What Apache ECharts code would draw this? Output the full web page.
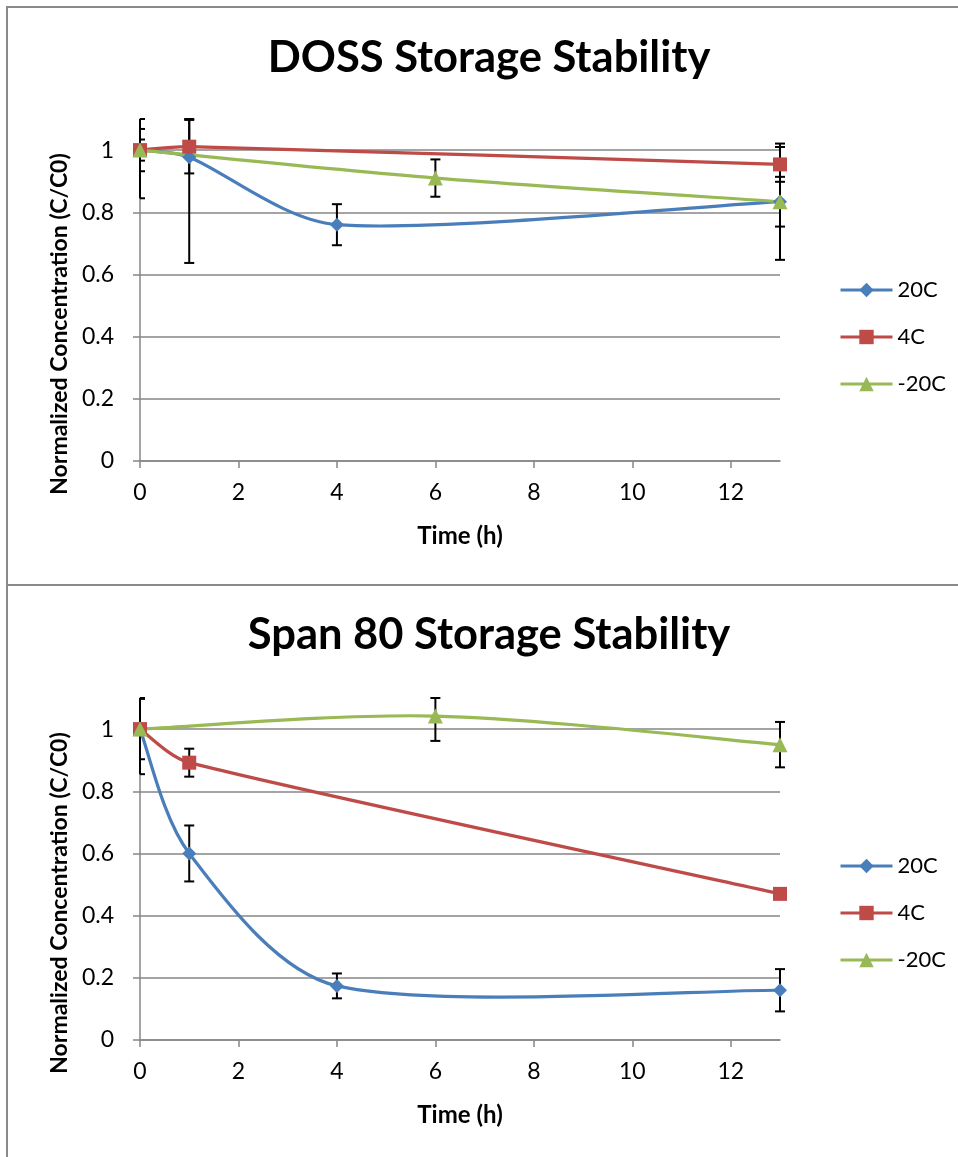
<!DOCTYPE html>
<html>
<head>
<meta charset="utf-8">
<script src="https://cdn.jsdelivr.net/npm/echarts@6/dist/echarts.min.js"></script>
<style>
  html, body { margin: 0; padding: 0; background: #fff; }
  #chart { width: 958px; height: 1157px; }
</style>
</head>
<body>
<div id="chart"></div>
<script>
// ---- data: normalized concentration C/C0 vs storage time (h) ----
const seriesNames = ['20C', '4C', '-20C'];

// DOSS
const dossTime20 = [0, 1, 4, 13];
const dossConc20 = [1.0, 0.977, 0.76, 0.834];
const dossErr20  = [0.155, 0.34, 0.066, 0.187];
const dossTime4  = [0, 1, 13];
const dossConc4  = [1.0, 1.011, 0.954];
const dossErr4   = [0.068, 0.086, 0.056];
const dossTimeM20 = [0, 6, 13];
const dossConcM20 = [1.0, 0.91, 0.834];
const dossErrM20  = [0.034, 0.06, 0.08];

// Span 80
const spanTime20 = [0, 1, 4, 13];
const spanConc20 = [1.0, 0.6, 0.174, 0.16];
const spanErr20  = [0.145, 0.09, 0.04, 0.068];
const spanTime4  = [0, 1, 13];
const spanConc4  = [1.0, 0.892, 0.47];
const spanErr4   = [0.097, 0.045, 0];
const spanTimeM20 = [0, 6, 13];
const spanConcM20 = [1.0, 1.042, 0.95];
const spanErrM20  = [0, 0.08, 0.073];

const X_MAX = 13;
const Y_MAX = 1.1;

const colors = ['#4A7EBB', '#BE4B48', '#98B954'];
const symbols = ['diamond', 'rect', 'triangle'];
const symbolSizes = [14, 14, 15];
const FONT = 'Lato, "Open Sans", sans-serif';

function pairs(xs, ys) { return xs.map((x, i) => [x, ys[i]]); }
function triples(xs, ys, es) { return xs.map((x, i) => [x, ys[i], es[i]]); }

// vertical error bar with caps, clipped to the plotting area
function renderErrorBar(params, api) {
  const cs = params.coordSys;
  const x = api.value(0), y = api.value(1), e = api.value(2);
  if (!e) return null;
  const hi = Math.min(y + e, Y_MAX);
  const lo = Math.max(y - e, 0);
  const pHi = api.coord([x, hi]);
  const pLo = api.coord([x, lo]);
  const half = 5;
  const left = Math.max(pHi[0] - half, cs.x);
  const style = { stroke: '#000', lineWidth: 2 };
  return {
    type: 'group',
    children: [
      { type: 'line', shape: { x1: pHi[0], y1: pHi[1], x2: pLo[0], y2: pLo[1] }, style },
      { type: 'line', shape: { x1: left, y1: pHi[1], x2: pHi[0] + half, y2: pHi[1] }, style },
      { type: 'line', shape: { x1: left, y1: pLo[1], x2: pLo[0] + half, y2: pLo[1] }, style }
    ]
  };
}

// smoothed curve through the points (cubic Bezier, Catmull-Rom style tangents,
// shortened next to a much shorter neighbouring segment)
function smoothPath(pix) {
  const n = pix.length;
  const dist = (a, b) => Math.hypot(b[0] - a[0], b[1] - a[1]);
  let d = 'M' + pix[0][0] + ' ' + pix[0][1];
  for (let i = 0; i < n - 1; i++) {
    const p0 = pix[Math.max(i - 1, 0)], p1 = pix[i], p2 = pix[i + 1], p3 = pix[Math.min(i + 2, n - 1)];
    const dA = dist(p0, p1), dB = dist(p1, p2), dC = dist(p2, p3);
    const s1 = Math.min(1, 2 * dB / (dA + dB));
    const s2 = Math.min(1, 2 * dB / (dB + dC));
    const c1 = [p1[0] + (p2[0] - p0[0]) / 6 * s1, p1[1] + (p2[1] - p0[1]) / 6 * s1];
    const c2 = [p2[0] - (p3[0] - p1[0]) / 6 * s2, p2[1] - (p3[1] - p1[1]) / 6 * s2];
    d += ' C' + c1[0] + ' ' + c1[1] + ' ' + c2[0] + ' ' + c2[1] + ' ' + p2[0] + ' ' + p2[1];
  }
  return d;
}

function curveSeries(k, idx, pts) {
  return {
    type: 'custom', xAxisIndex: idx, yAxisIndex: idx, z: 3, silent: true,
    encode: { x: 0, y: 1 },
    data: pts,
    renderItem: function (params, api) {
      if (params.dataIndex !== 0) return null;
      const pix = pts.map(p => api.coord(p));
      return {
        type: 'path',
        shape: { pathData: smoothPath(pix) },
        style: { fill: 'none', stroke: colors[k], lineWidth: 3.2, lineJoin: 'round', lineCap: 'round' }
      };
    }
  };
}

function markerSeries(name, k, idx, pts) {
  return {
    type: 'line', name, xAxisIndex: idx, yAxisIndex: idx, z: 4,
    data: pts,
    symbol: symbols[k], symbolSize: symbolSizes[k],
    lineStyle: { color: colors[k], width: 3, opacity: 0 },
    itemStyle: { color: colors[k] },
    emphasis: { disabled: true }
  };
}

function errorSeries(idx, data) {
  return {
    type: 'custom', xAxisIndex: idx, yAxisIndex: idx, z: 2,
    renderItem: renderErrorBar, encode: { x: 0, y: 1 },
    data, silent: true
  };
}

function xAxisFor(idx) {
  return {
    type: 'value', gridIndex: idx, min: 0, max: X_MAX, interval: 2,
    name: 'Time (h)', nameLocation: 'middle', nameGap: 63,
    nameTextStyle: { fontFamily: FONT, fontWeight: 'bold', fontSize: 24, color: '#000' },
    axisLine: { show: true, lineStyle: { color: '#868686', width: 1.5 } },
    axisTick: { show: true, length: 7, lineStyle: { color: '#868686', width: 1.5 } },
    axisLabel: { showMaxLabel: false, margin: 20, fontFamily: FONT, fontSize: 23, color: '#000' },
    splitLine: { show: false }
  };
}

function yAxisFor(idx) {
  return {
    type: 'value', gridIndex: idx, min: 0, max: Y_MAX, interval: 0.2,
    name: 'Normalized Concentration (C/C0)', nameLocation: 'middle', nameGap: 67,
    nameTextStyle: { fontFamily: FONT, fontWeight: 'bold', fontSize: 23, color: '#000',
                     padding: [0, 68, 0, 0] },
    axisLine: { show: true, lineStyle: { color: '#868686', width: 1.5 } },
    axisTick: { show: true, length: 7, lineStyle: { color: '#868686', width: 1.5 } },
    axisLabel: { showMaxLabel: false, margin: 26, fontFamily: FONT, fontSize: 23, color: '#000' },
    splitLine: { show: true, showMaxLine: false, lineStyle: { color: '#868686', width: 1.5 } }
  };
}

function legendFor(top) {
  return {
    data: seriesNames, orient: 'vertical', left: 834, top,
    itemWidth: 52, itemHeight: 18, itemGap: 25,
    lineStyle: { width: 3, opacity: 1 },
    textStyle: { fontFamily: FONT, fontSize: 22, color: '#000' },
    selectedMode: false
  };
}

const chart = echarts.init(document.getElementById('chart'), null, { renderer: 'canvas' });
chart.setOption({
  animation: false,
  backgroundColor: '#fff',
  title: [
    { text: 'DOSS Storage Stability', left: 484, top: 31, textAlign: 'center',
      textStyle: { fontFamily: FONT, fontWeight: 'bold', fontSize: 43.5, color: '#000' } },
    { text: 'Span 80 Storage Stability', left: 484, top: 608, textAlign: 'center',
      textStyle: { fontFamily: FONT, fontWeight: 'bold', fontSize: 43.5, color: '#000' } }
  ],
  legend: [legendFor(274), legendFor(850)],
  grid: [
    { left: 140, top: 119, width: 640, height: 342 },
    { left: 140, top: 698, width: 640, height: 342 }
  ],
  xAxis: [xAxisFor(0), xAxisFor(1)],
  yAxis: [yAxisFor(0), yAxisFor(1)],
  graphic: [
    { type: 'rect', shape: { x: 7, y: 7, width: 1000, height: 578 },
      style: { fill: 'none', stroke: '#8a8a8a', lineWidth: 2 }, silent: true },
    { type: 'rect', shape: { x: 7, y: 585, width: 1000, height: 600 },
      style: { fill: 'none', stroke: '#8a8a8a', lineWidth: 2 }, silent: true }
  ],
  series: [
    errorSeries(0, [].concat(
      triples(dossTime20, dossConc20, dossErr20),
      triples(dossTime4, dossConc4, dossErr4),
      triples(dossTimeM20, dossConcM20, dossErrM20))),
    curveSeries(0, 0, pairs(dossTime20, dossConc20)),
    curveSeries(1, 0, pairs(dossTime4, dossConc4)),
    curveSeries(2, 0, pairs(dossTimeM20, dossConcM20)),
    markerSeries('20C', 0, 0, pairs(dossTime20, dossConc20)),
    markerSeries('4C', 1, 0, pairs(dossTime4, dossConc4)),
    markerSeries('-20C', 2, 0, pairs(dossTimeM20, dossConcM20)),

    errorSeries(1, [].concat(
      triples(spanTime20, spanConc20, spanErr20),
      triples(spanTime4, spanConc4, spanErr4),
      triples(spanTimeM20, spanConcM20, spanErrM20))),
    curveSeries(0, 1, pairs(spanTime20, spanConc20)),
    curveSeries(1, 1, pairs(spanTime4, spanConc4)),
    curveSeries(2, 1, pairs(spanTimeM20, spanConcM20)),
    markerSeries('20C', 0, 1, pairs(spanTime20, spanConc20)),
    markerSeries('4C', 1, 1, pairs(spanTime4, spanConc4)),
    markerSeries('-20C', 2, 1, pairs(spanTimeM20, spanConcM20))
  ]
});
</script>
</body>
</html>
